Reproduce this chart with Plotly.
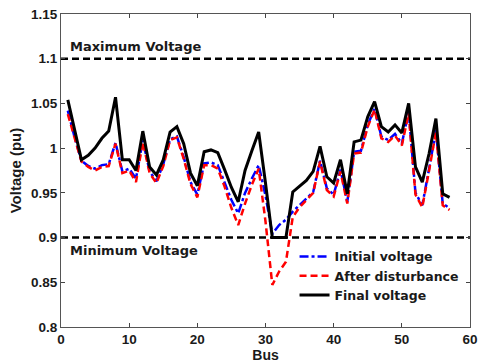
import plotly.graph_objects as go

buses = list(range(1, 58))

initial_voltage = [1.042, 1.012, 0.986, 0.980, 0.977, 0.981, 0.982, 1.006, 0.974, 0.977,
                   0.966, 1.009, 0.974, 0.963, 0.982, 1.010, 1.013, 0.990, 0.962, 0.948,
                   0.983, 0.984, 0.981, 0.961, 0.942, 0.927, 0.950, 0.966, 0.981, 0.947,
                   0.904, 0.914, 0.920, 0.929, 0.936, 0.944, 0.951, 0.986, 0.955, 0.948,
                   0.976, 0.940, 0.996, 0.997, 1.026, 1.044, 1.013, 1.009, 1.016, 1.005,
                   1.041, 0.950, 0.936, 0.977, 1.020, 0.938, 0.933]

after_disturbance = [1.038, 1.010, 0.985, 0.979, 0.975, 0.979, 0.980, 1.005, 0.972, 0.975,
                     0.962, 1.007, 0.972, 0.961, 0.980, 1.009, 1.012, 0.988, 0.960, 0.945,
                     0.981, 0.981, 0.977, 0.957, 0.933, 0.914, 0.938, 0.959, 0.977, 0.918,
                     0.847, 0.862, 0.873, 0.923, 0.934, 0.942, 0.950, 0.985, 0.953, 0.946,
                     0.974, 0.938, 0.994, 0.995, 1.024, 1.043, 1.011, 1.007, 1.014, 1.003,
                     1.039, 0.948, 0.934, 0.975, 1.018, 0.936, 0.931]

final_voltage = [1.054, 1.020, 0.987, 0.992, 1.000, 1.011, 1.019, 1.057, 0.987, 0.987,
                 0.975, 1.019, 0.979, 0.970, 0.987, 1.018, 1.024, 1.005, 0.972, 0.958,
                 0.996, 0.998, 0.995, 0.976, 0.956, 0.940, 0.975, 0.997, 1.018, 0.961,
                 0.900, 0.900, 0.900, 0.951, 0.958, 0.964, 0.974, 1.002, 0.968, 0.961,
                 0.987, 0.949, 1.007, 1.009, 1.035, 1.052, 1.024, 1.018, 1.026, 1.017,
                 1.050, 0.979, 0.962, 0.994, 1.033, 0.949, 0.945]

limit_x = [0, 60]
max_voltage = [1.1, 1.1]
min_voltage = [0.9, 0.9]

x_ticks = [0, 10, 20, 30, 40, 50, 60]
x_tick_labels = ["0", "10", "20", "30", "40", "50", "60"]
y_ticks = [0.8, 0.85, 0.9, 0.95, 1.0, 1.05, 1.1, 1.15]
y_tick_labels = ["0.8", "0.85", "0.9", "0.95", "1", "1.05", "1.1", "1.15"]

FONT = "Liberation Sans, Arial, sans-serif"
FONT2 = "DejaVu Sans, Verdana, sans-serif"
INK = "#1a1a1a"

fig = go.Figure()

fig.add_trace(go.Scatter(x=limit_x, y=max_voltage, mode="lines", showlegend=False,
                         line=dict(color="black", width=2.5, dash="7px,4px")))
fig.add_trace(go.Scatter(x=limit_x, y=min_voltage, mode="lines", showlegend=False,
                         line=dict(color="black", width=2.5, dash="7px,4px")))

fig.add_trace(go.Scatter(x=buses, y=initial_voltage, mode="lines", name="<b>Initial voltage</b>",
                         line=dict(color="#0000ff", width=2.5, dash="dashdot")))
fig.add_trace(go.Scatter(x=buses, y=after_disturbance, mode="lines", name="<b>After disturbance</b>",
                         line=dict(color="#ff0000", width=2.5, dash="7px,4px")))
fig.add_trace(go.Scatter(x=buses, y=final_voltage, mode="lines", name="<b>Final voltage</b>",
                         line=dict(color="black", width=3)))

fig.add_annotation(x=1.0, y=1.114, xref="x", yref="y", text="<b>Maximum Voltage</b>",
                   showarrow=False, xanchor="left", yanchor="middle",
                   font=dict(family=FONT2, size=13, color=INK))
fig.add_annotation(x=1.0, y=0.886, xref="x", yref="y", text="<b>Minimum Voltage</b>",
                   showarrow=False, xanchor="left", yanchor="middle",
                   font=dict(family=FONT2, size=13, color=INK))

fig.update_layout(
    width=479, height=364,
    margin=dict(l=61, r=9, t=14, b=37, autoexpand=False),
    paper_bgcolor="white", plot_bgcolor="white",
    font=dict(family=FONT, size=12, color=INK),
    showlegend=True,
    legend=dict(x=0.571, y=0.272, xanchor="left", yanchor="top",
                bgcolor="rgba(0,0,0,0)", borderwidth=0, tracegroupgap=0,
                itemwidth=30,
                font=dict(family=FONT2, size=12.5, color=INK)),
)

fig.update_xaxes(range=[0, 60], tickvals=x_ticks,
                 ticktext=["<b>%s</b>" % t for t in x_tick_labels],
                 ticks="inside", ticklen=4, automargin=False,
                 showline=True, linecolor="#555", linewidth=1, mirror="allticks",
                 showgrid=False, zeroline=False,
                 tickfont=dict(family=FONT, size=13.5, color=INK),
                 title=dict(text="<b>Bus</b>", standoff=3,
                            font=dict(family=FONT, size=14, color=INK)))
fig.update_yaxes(range=[0.8, 1.15], tickvals=y_ticks,
                 ticktext=["<b>%s</b>" % t for t in y_tick_labels],
                 ticks="inside", ticklen=4, automargin=False,
                 showline=True, linecolor="#555", linewidth=1, mirror="allticks",
                 showgrid=False, zeroline=False,
                 tickfont=dict(family=FONT, size=13.5, color=INK),
                 title=dict(text="<b>Voltage (pu)</b>", standoff=5,
                            font=dict(family=FONT, size=15, color=INK)))

fig.write_html("out.html", config={"displayModeBar": False},
               post_script="document.body.style.margin='0px';document.body.style.padding='0px';")
